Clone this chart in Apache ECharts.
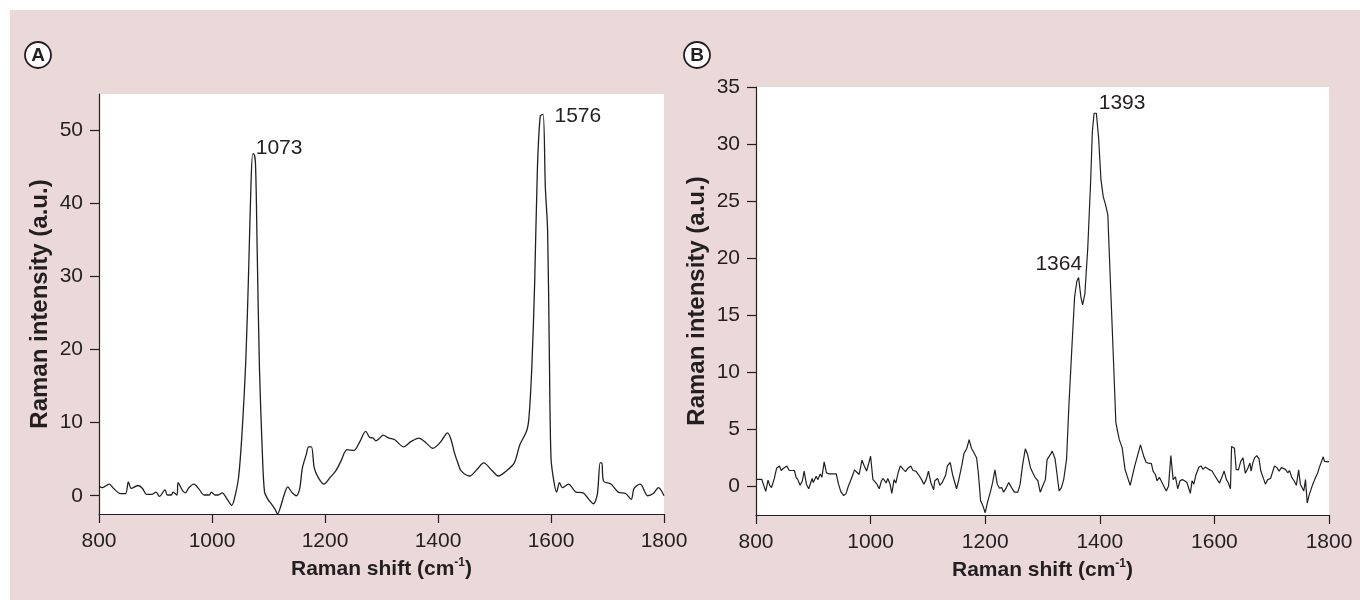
<!DOCTYPE html>
<html>
<head>
<meta charset="utf-8">
<title>Raman spectra</title>
<script src="https://cdn.jsdelivr.net/npm/echarts@6/dist/echarts.min.js"></script>
<style>
html, body { margin: 0; padding: 0; background: #fff; }
#panel { position: absolute; left: 10px; top: 10px; width: 1350px; height: 590px; background: #ebd8d8; }
#chart { position: absolute; left: 0; top: 0; width: 1360px; height: 600px; }
</style>
</head>
<body>
<div id="panel"></div>
<div id="chart"></div>
<script>
// spectrum A
var shiftA = [800,806,818,826,838,847,852,857,869,877,884,894,901,907,917,921,928,931,938,940,948,953,959,968,977,986,995,999,1005,1011,1018,1027,1035,1040,1047,1053,1060,1065,1069,1072,1074,1077,1080,1084,1089,1093,1099,1105,1112,1116,1121,1128,1134,1142,1149,1155,1160,1167,1171,1176,1181,1188,1198,1209,1219,1228,1239,1251,1261,1272,1279,1285,1290,1297,1303,1313,1323,1339,1352,1366,1378,1391,1404,1417,1423,1429,1436,1441,1456,1469,1481,1495,1507,1521,1535,1545,1557,1561,1566,1571,1576,1581,1586,1590,1594,1597,1600,1605,1610,1615,1620,1631,1644,1657,1667,1675,1682,1687,1690,1693,1706,1719,1732,1742,1747,1758,1771,1781,1790,1800];
var intensityA = [1.3,1.1,1.6,1.0,0.3,0.3,1.9,1.0,1.4,1.0,0.2,0.2,0.5,-0.1,0.8,0.1,0.1,0.5,0.1,1.8,0.7,0.4,1.1,1.6,0.9,0.1,0.1,0.5,0.1,0.1,0.4,-0.5,-1.3,-0.3,2.5,8.4,18.9,31.2,42.6,46.8,46.8,45.4,33.5,17.5,6.1,0.5,-0.5,-1.1,-1.9,-2.5,-1.6,0.2,1.2,0.4,0,0.9,3.8,5.7,6.7,6.7,3.8,2.5,1.6,2.5,3.4,4.7,6.3,6.2,7.3,8.8,8.0,7.9,7.5,7.9,8.3,7.9,7.7,6.7,7.4,7.9,7.3,6.5,7.3,8.6,7.7,5.9,4.3,3.4,2.7,3.6,4.5,3.5,2.7,3.4,4.5,7.0,8.9,10.7,17.5,28.9,44.9,52.0,52.2,42.2,36.3,19.8,5.2,2.0,0.5,1.8,1.1,1.6,0.5,0.4,-0.5,-1.1,0.2,4.5,4.5,2.0,1.6,0.5,0.3,-0.5,1.0,1.6,0,0.3,1.1,0];

// spectrum B
var shiftB = [800,810,813,817,821,824,827,832,836,841,844,848,854,858,862,867,870,873,877,881,884,888,892,898,900,905,908,912,915,919,923,927,935,940,944,948,953,957,961,965,968,972,976,980,985,989,993,996,1000,1004,1007,1011,1015,1019,1022,1024,1027,1030,1034,1037,1041,1044,1048,1052,1054,1057,1061,1065,1070,1074,1079,1084,1089,1093,1097,1101,1105,1110,1112,1117,1121,1125,1131,1134,1139,1143,1150,1154,1159,1163,1168,1172,1176,1180,1185,1188,1192,1196,1200,1204,1209,1213,1217,1221,1225,1229,1232,1237,1241,1246,1251,1257,1261,1265,1270,1274,1279,1283,1287,1292,1296,1300,1305,1308,1315,1317,1322,1325,1329,1333,1337,1342,1346,1351,1356,1360,1363,1367,1370,1374,1379,1384,1387,1390,1394,1398,1402,1406,1410,1414,1418,1423,1428,1434,1439,1444,1453,1461,1471,1477,1481,1485,1490,1493,1497,1500,1504,1507,1512,1516,1520,1524,1528,1532,1536,1540,1544,1548,1552,1555,1558,1561,1564,1568,1573,1577,1580,1584,1590,1596,1600,1605,1609,1613,1617,1621,1624,1628,1630,1633,1635,1638,1642,1646,1650,1654,1658,1662,1664,1667,1670,1674,1678,1681,1685,1689,1693,1698,1702,1705,1709,1713,1717,1720,1724,1728,1731,1735,1739,1743,1747,1750,1753,1756,1759,1762,1765,1768,1771,1775,1780,1783,1786,1790,1792,1794,1800];
var intensityB = [0.63,0.63,0.7,-0.43,0.55,0.1,-0.1,0.7,1.6,1.8,1.4,1.6,1.8,1.4,1.4,1.4,0.8,0.6,0.1,0.5,1.35,0.2,-0.2,0.7,0.35,0.9,0.6,1.1,0.8,2.15,1.2,1.1,1.1,1.1,0.2,-0.45,-0.8,-0.65,0,0.5,0.9,1.45,1.25,1.05,2.3,1.8,1.35,1.9,2.65,0.63,0.8,0.2,-0.2,0.5,0.7,0.6,0.3,0.7,0.2,-0.6,0.6,0.3,1.2,1.8,1.9,1.5,1.3,1.6,1.8,1.4,1.35,1.0,0.6,0.2,0.6,1.35,0.35,-0.3,0.5,0.7,0.1,0.35,1.0,1.8,2.1,1.05,-0.2,0.6,1.8,2.9,3.35,4.1,3.35,3.0,2.5,1.2,-1.25,-1.7,-2.3,-1.4,-0.5,0.35,1.45,0.2,-0.15,-0.1,-0.5,-0.1,0.35,-0.1,-0.5,-0.5,0.2,1.8,3.3,2.8,1.65,1.2,0.8,0.5,-0.5,0,0.6,2.35,2.9,3.1,2.4,1.2,-0.4,-0.1,0.6,2.4,7.0,11.9,16.6,18.0,18.3,16.6,15.9,16.9,20.9,26.7,31.1,32.7,32.7,30.5,26.9,25.4,24.7,23.8,18.6,12.2,5.6,4.1,3.4,1.5,0.1,1.8,3.65,2.6,2.1,2.05,2.0,1.35,1.05,0.5,0.8,0.5,0,-0.4,0.05,2.7,0.6,0.85,-0.2,0.5,0.6,0.5,0.35,0.5,-0.6,0.5,0.2,1.05,1.7,1.8,1.5,1.7,1.5,1.35,1.0,0.6,0.3,0.8,1.35,0.6,0.35,-0.2,3.5,3.65,3.35,1.5,1.45,2.2,2.5,1.15,1.55,2.05,1.35,2.05,2.5,2.7,2.4,1.35,0.8,0.2,0.6,0.7,1.35,1.8,1.65,1.35,1.65,1.8,1.5,1.2,1.4,0.8,0.5,0.1,1.45,0.2,0.05,-0.4,0.6,-1.45,-0.8,-0.8,0.1,0.6,1.15,1.65,1.5,2.6,2.2,2.1,2.15];

// ticks
var xTicks = [800, 1000, 1200, 1400, 1600, 1800];
var yTicksA = [0, 10, 20, 30, 40, 50];
var yTicksB = [0, 5, 10, 15, 20, 25, 30, 35];

// peak labels
var peakNamesA = ['1073', '1576'];
var peakCoordsA = [[1073, 46.8], [1584, 52.2]];
var peakNamesB = ['1393', '1364'];
var peakCoordsB = [[1392, 32.7], [1363, 18.3]];

var ink = '#231f20';
var font = '"Liberation Sans", Arial, Helvetica, sans-serif';

function zip(xs, ys) {
    var out = [];
    for (var i = 0; i < xs.length; i++) out.push([xs[i], ys[i]]);
    return out;
}

function xAxisFor(idx) {
    return {
        gridIndex: idx,
        type: 'value',
        min: 800,
        max: 1800,
        name: '{t|Raman shift (cm}{s|-1}{t|)}',
        nameLocation: 'middle',
        nameGap: 41,
        nameTextStyle: {
            rich: {
                t: { fontSize: 21, fontWeight: 'bold', color: ink, fontFamily: font, lineHeight: 25 },
                s: { fontSize: 12, fontWeight: 'bold', color: ink, fontFamily: font, lineHeight: 25, verticalAlign: 'top' }
            }
        },
        axisLine: { show: true, onZero: false, lineStyle: { color: ink, width: 1.2 } },
        axisTick: { show: true, length: 9, customValues: xTicks, lineStyle: { color: ink, width: 1.2 } },
        axisLabel: {
            customValues: xTicks, color: ink, fontSize: 21, margin: 17, fontFamily: font,
            formatter: function (v) { return String(v); }
        },
        splitLine: { show: false }
    };
}

function yAxisFor(idx, min, max, ticks) {
    return {
        gridIndex: idx,
        type: 'value',
        min: min,
        max: max,
        name: 'Raman intensity (a.u.)',
        nameLocation: 'middle',
        nameGap: 47,
        nameTextStyle: { fontSize: 24, fontWeight: 'bold', color: ink, fontFamily: font },
        axisLine: { show: true, onZero: false, lineStyle: { color: ink, width: 1.2 } },
        axisTick: { show: true, length: 9, customValues: ticks, lineStyle: { color: ink, width: 1.2 } },
        axisLabel: {
            customValues: ticks, color: ink, fontSize: 21, margin: 16, fontFamily: font,
            formatter: function (v) { return String(v); }
        },
        splitLine: { show: false }
    };
}

function peakMarks(names, coords, places) {
    var data = [];
    for (var i = 0; i < names.length; i++) {
        data.push({
            name: names[i],
            coord: coords[i],
            label: places[i]
        });
    }
    return {
        symbol: 'circle',
        symbolSize: 1,
        itemStyle: { color: 'rgba(0,0,0,0)' },
        silent: true,
        animation: false,
        label: { show: true, color: ink, fontSize: 21, fontFamily: font, distance: 0, formatter: '{b}' },
        data: data
    };
}

function badge(cx, cy, letter) {
    return {
        type: 'group',
        x: cx,
        y: cy,
        children: [
            { type: 'circle', shape: { cx: 0, cy: 0, r: 13 }, style: { fill: '#fff', stroke: ink, lineWidth: 1.8 } },
            { type: 'text', x: 0, y: 1, style: { text: letter, fill: ink, font: 'bold 19px ' + font, align: 'center', verticalAlign: 'middle' } }
        ]
    };
}

var option = {
    backgroundColor: 'transparent',
    animation: false,
    textStyle: { fontFamily: font },
    graphic: [badge(38, 55, 'A'), badge(697, 55, 'B')],
    grid: [
        { left: 99, right: 696, top: 94, bottom: 86, show: true, backgroundColor: '#fff', borderWidth: 0 },
        { left: 756, right: 31, top: 87, bottom: 85, show: true, backgroundColor: '#fff', borderWidth: 0 }
    ],
    xAxis: [xAxisFor(0), xAxisFor(1)],
    yAxis: [yAxisFor(0, -2.5, 55, yTicksA), yAxisFor(1, -2.5, 35, yTicksB)],
    series: [
        {
            name: 'A',
            type: 'line',
            xAxisIndex: 0,
            yAxisIndex: 0,
            smooth: 0.3,
            symbol: 'none',
            lineStyle: { color: ink, width: 1.3 },
            data: zip(shiftA, intensityA),
            markPoint: peakMarks(peakNamesA, peakCoordsA, [
                { position: 'right', offset: [2, -6] },
                { position: 'right', offset: [12, 2] }
            ])
        },
        {
            name: 'B',
            type: 'line',
            xAxisIndex: 1,
            yAxisIndex: 1,
            smooth: false,
            symbol: 'none',
            lineStyle: { color: ink, width: 1.2 },
            data: zip(shiftB, intensityB),
            markPoint: peakMarks(peakNamesB, peakCoordsB, [
                { position: 'right', offset: [3, -10] },
                { position: 'left', offset: [4, -13] }
            ])
        }
    ]
};

var myChart = echarts.init(document.getElementById('chart'));
myChart.setOption(option);
</script>
</body>
</html>
